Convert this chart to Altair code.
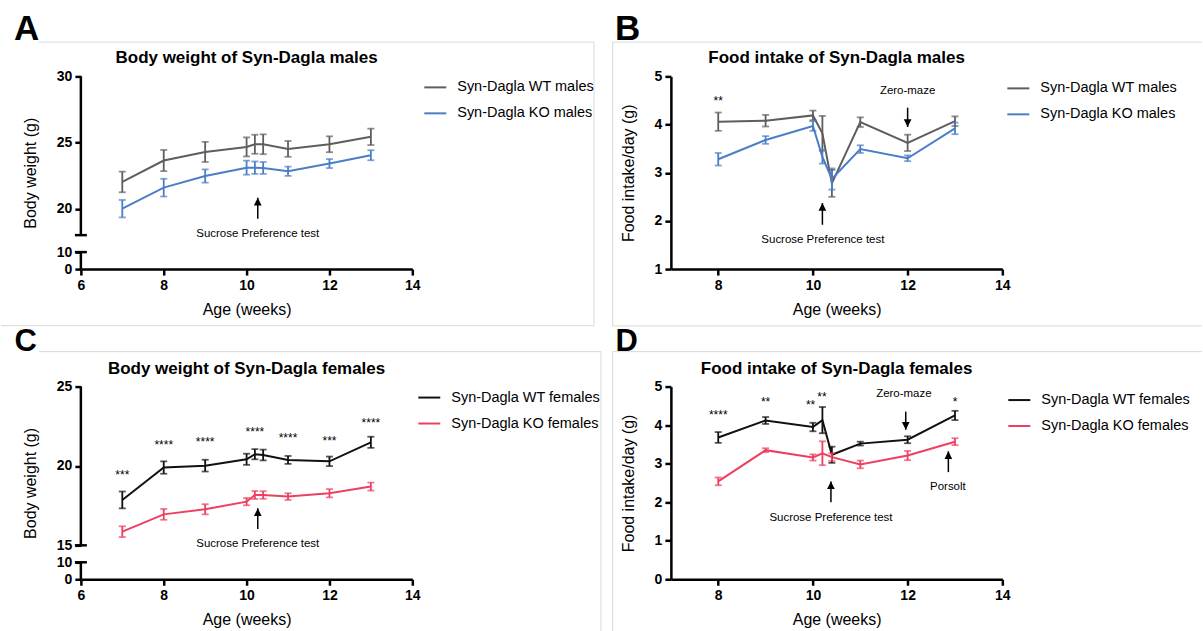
import altair as alt
import pandas as pd

FONT = "Liberation Sans"
W, H = 332, 193

# ---------------- data ----------------
weeks_bw = [7, 8, 9, 10, 10.2, 10.4, 11, 12, 13]
weeks_fi = [8, 9, 10, 10.2, 10.4, 11, 12, 13]

male_labels = ["Syn-Dagla WT males", "Syn-Dagla KO males"]
female_labels = ["Syn-Dagla WT females", "Syn-Dagla KO females"]

# A: body weight, males
a_wt = [22.02, 23.64, 24.29, 24.67, 24.87, 24.87, 24.52, 24.87, 25.43]
a_wt_sem = [0.78, 0.80, 0.76, 0.72, 0.72, 0.75, 0.60, 0.60, 0.62]
a_ko = [20.00, 21.59, 22.47, 23.10, 23.10, 23.08, 22.83, 23.41, 24.04]
a_ko_sem = [0.66, 0.67, 0.50, 0.53, 0.47, 0.45, 0.35, 0.34, 0.38]

# B: food intake, males
b_wt = [4.06, 4.08, 4.19, 3.82, 2.78, 4.05, 3.62, 4.07]
b_wt_sem = [0.19, 0.12, 0.10, 0.36, 0.28, 0.10, 0.17, 0.10]
b_ko = [3.28, 3.68, 3.97, 3.33, 2.87, 3.49, 3.30, 3.92]
b_ko_sem = [0.13, 0.08, 0.10, 0.14, 0.22, 0.08, 0.06, 0.12]

# C: body weight, females
c_wt = [17.86, 19.90, 20.02, 20.42, 20.74, 20.69, 20.38, 20.29, 21.49]
c_wt_sem = [0.53, 0.39, 0.37, 0.35, 0.32, 0.34, 0.25, 0.30, 0.35]
c_ko = [15.86, 16.95, 17.27, 17.75, 18.17, 18.17, 18.07, 18.28, 18.70]
c_ko_sem = [0.34, 0.34, 0.32, 0.23, 0.25, 0.24, 0.21, 0.26, 0.25]

# D: food intake, females
d_wt = [3.68, 4.12, 3.95, 4.13, 3.23, 3.52, 3.62, 4.25]
d_wt_sem = [0.14, 0.09, 0.11, 0.34, 0.21, 0.05, 0.09, 0.12]
d_ko = [2.54, 3.35, 3.16, 3.27, 3.17, 2.98, 3.21, 3.57]
d_ko_sem = [0.10, 0.05, 0.08, 0.31, 0.10, 0.10, 0.12, 0.09]

# annotations (data coordinates)
a_note_text = ["Sucrose Preference test"]
a_note_x = [10.27]
a_note_y = [18.1]
a_arrow_x = [10.27]
a_arrow_tail = [19.24]
a_arrow_head = [20.83]
a_arrow_dir = ["up"]

b_star_text = ["**"]
b_star_x = [8]
b_star_y = [4.55]
b_note_text = ["Zero-maze", "Sucrose Preference test"]
b_note_x = [12.0, 10.21]
b_note_y = [4.70, 1.61]
b_arrow_x = [12.0, 10.2]
b_arrow_tail = [4.35, 1.92]
b_arrow_head = [3.95, 2.37]
b_arrow_dir = ["down", "up"]

c_star_text = ["***", "****", "****", "****", "****", "***", "****"]
c_star_x = [7, 8, 9, 10.2, 11, 12, 13]
c_star_y = [19.64, 21.49, 21.70, 22.33, 21.95, 21.74, 22.90]
c_note_text = ["Sucrose Preference test"]
c_note_x = [10.27]
c_note_y = [15.08]
c_arrow_x = [10.27]
c_arrow_tail = [16.03]
c_arrow_head = [17.33]
c_arrow_dir = ["up"]

d_star_text = ["****", "**", "**", "**", "*"]
d_star_x = [8, 9, 9.95, 10.19, 13]
d_star_y = [4.33, 4.67, 4.61, 4.81, 4.68]
d_note_text = ["Zero-maze", "Sucrose Preference test", "Porsolt"]
d_note_x = [11.92, 10.38, 12.85]
d_note_y = [4.81, 1.60, 2.39]
d_arrow_x = [11.96, 10.38, 12.86]
d_arrow_tail = [4.35, 2.00, 2.78]
d_arrow_head = [3.88, 2.54, 3.32]
d_arrow_dir = ["down", "up", "up"]

# broken-axis pieces
a_seg_lo = [18, 0]
a_seg_hi = [30, 10]
c_seg_lo = [15, 0]
c_seg_hi = [25, 10]

UP = "M0,0L1,2L-1,2Z"
DOWN = "M0,0L1,-2L-1,-2Z"
DUMMY = pd.DataFrame({"d": [0]})


def series_df(weeks, wt, wt_sem, ko, ko_sem, labels):
    rows = []
    for lab, m_arr, s_arr in ((labels[0], wt, wt_sem), (labels[1], ko, ko_sem)):
        for w, m, s in zip(weeks, m_arr, s_arr):
            rows.append({"week": w, "mean": m, "lo": m - s, "hi": m + s, "group": lab})
    return pd.DataFrame(rows)


def panel(p):
    df = series_df(*p["series"], p["labels"])
    xs = alt.Scale(domain=p["xdom"], nice=False, zero=False)
    ys = alt.Scale(**p["yscale"])
    xaxis = alt.Axis(values=p["xticks"], title="Age (weeks)", grid=False, zindex=1,
                     domainColor="black", domainWidth=2.5, tickColor="black",
                     tickWidth=2.5, tickSize=6, labelFont=FONT, labelFontSize=14,
                     labelFontWeight="bold", labelColor="black", labelPadding=3,
                     labelFlush=False, labelOverlap=False, titleFont=FONT,
                     titleFontSize=16, titleFontWeight="normal", titleColor="black",
                     titlePadding=9)
    yaxis = alt.Axis(values=p["yticks"], title=p["ytitle"], grid=False, zindex=1,
                     domain=p["ydomainline"], domainColor="black", domainWidth=2.5,
                     tickColor="black", tickWidth=2.5, tickSize=6, labelFont=FONT,
                     labelFontSize=14, labelFontWeight="bold", labelColor="black",
                     labelPadding=3, labelFlush=False, labelOverlap=False,
                     titleFont=FONT, titleFontSize=16, titleFontWeight="normal",
                     titleColor="black", titlePadding=18)

    def X(f):
        return alt.X(f, type="quantitative", scale=xs, axis=xaxis)

    def Y(f):
        return alt.Y(f, type="quantitative", scale=ys, axis=yaxis)

    cscale = alt.Scale(domain=p["labels"], range=p["colors"])
    leg = alt.Legend(orient="none", legendX=p["legx"], legendY=p["legy"], title=None,
                     labelFont=FONT, labelFontSize=14.5, labelColor="black",
                     symbolType="stroke", symbolSize=484, symbolStrokeWidth=2,
                     labelOffset=10, labelLimit=300, rowPadding=7)
    col_leg = alt.Color("group:N", scale=cscale, legend=leg)
    col = alt.Color("group:N", scale=cscale, legend=None)

    base = alt.Chart(df)
    layers = []
    if p.get("bg"):
        layers.append(alt.Chart(DUMMY).mark_rect(color="white", opacity=0).encode(
            x=alt.value(-80), x2=alt.value(1123), y=alt.value(-76), y2=alt.value(555)))
    for fr in p["frames"]:
        if fr[0] == "h":
            layers.append(alt.Chart(DUMMY).mark_rule(color="#d9d9d9", strokeWidth=1).encode(
                x=alt.value(fr[1]), x2=alt.value(fr[2]), y=alt.value(fr[3])))
        else:
            layers.append(alt.Chart(DUMMY).mark_rule(color="#d9d9d9", strokeWidth=1).encode(
                x=alt.value(fr[1]), y=alt.value(fr[2]), y2=alt.value(fr[3])))
    layers.append(alt.Chart(DUMMY).mark_text(
        text=p["letter"], font=FONT, fontSize=p["letter_size"], fontWeight="bold",
        align="left", baseline="alphabetic", color="black").encode(
        x=alt.value(p["letter_x"]), y=alt.value(-36)))
    layers.append(alt.Chart(DUMMY).mark_text(
        text=p["title"], font=FONT, fontSize=17, fontWeight="bold",
        align="center", baseline="middle", color="black").encode(
        x=alt.value(W / 2), y=alt.value(p["title_y"])))

    layers.append(base.mark_line(strokeWidth=2).encode(x=X("week"), y=Y("mean"), color=col_leg))
    layers.append(base.mark_rule(strokeWidth=1.8).encode(x=X("week"), y=Y("lo"), y2="hi", color=col))
    layers.append(base.mark_tick(orient="horizontal", size=7, thickness=1.8).encode(
        x=X("week"), y=Y("lo"), color=col))
    layers.append(base.mark_tick(orient="horizontal", size=7, thickness=1.8).encode(
        x=X("week"), y=Y("hi"), color=col))

    if p.get("segments"):
        seg = pd.DataFrame({"s0": p["segments"][0], "s1": p["segments"][1]})
        layers.append(alt.Chart(seg).mark_rule(color="black", strokeWidth=2.5).encode(
            x=alt.value(0), y=Y("s0"), y2="s1"))
        brk = pd.DataFrame({"b": [p["segments"][0][0], p["segments"][1][1]]})
        layers.append(alt.Chart(brk).mark_rule(color="black", strokeWidth=2.5).encode(
            x=alt.value(-6), x2=alt.value(6), y=Y("b")))

    arr = pd.DataFrame({"x": p["arrows"][0], "t": p["arrows"][1],
                        "h": p["arrows"][2], "dir": p["arrows"][3]})
    layers.append(alt.Chart(arr).mark_rule(color="black", strokeWidth=1.5).encode(
        x=X("x"), y=Y("t"), y2="h"))
    for d, path in (("up", UP), ("down", DOWN)):
        sub = arr[arr["dir"] == d]
        if len(sub):
            layers.append(alt.Chart(sub).mark_point(
                shape=path, filled=True, size=60, color="black", opacity=1).encode(
                x=X("x"), y=Y("h")))

    notes = pd.DataFrame({"x": p["notes"][0], "y": p["notes"][1], "label": p["notes"][2]})
    layers.append(alt.Chart(notes).mark_text(
        font=FONT, fontSize=11.5, color="black", align="center", baseline="middle").encode(
        x=X("x"), y=Y("y"), text="label:N"))

    if p.get("stars"):
        st = pd.DataFrame({"x": p["stars"][0], "y": p["stars"][1], "label": p["stars"][2]})
        layers.append(alt.Chart(st).mark_text(
            font=FONT, fontSize=12, color="black", align="center",
            baseline="alphabetic", dy=7).encode(x=X("x"), y=Y("y"), text="label:N"))

    return alt.layer(*layers).properties(width=W, height=H)


pA = panel({
    "series": (weeks_bw, a_wt, a_wt_sem, a_ko, a_ko_sem), "labels": male_labels,
    "colors": ["#625c5c", "#4a7ec6"], "xdom": [6, 14], "xticks": [6, 8, 10, 12, 14],
    "yscale": {"domain": [0, 10, 18, 30], "range": [193, 176, 159, 0], "nice": False, "zero": False},
    "yticks": [0, 10, 20, 25, 30], "ytitle": "Body weight (g)", "ydomainline": False,
    "segments": (a_seg_lo, a_seg_hi), "legx": 343, "legy": -1, "bg": True,
    "frames": [("h", -42, 514, -34.3), ("v", 514, -34.3, 249.7), ("h", -80, 514, 249.7)],
    "letter": "A", "letter_size": 35, "letter_x": -67,
    "title": "Body weight of Syn-Dagla males", "title_y": -18,
    "arrows": (a_arrow_x, a_arrow_tail, a_arrow_head, a_arrow_dir),
    "notes": (a_note_x, a_note_y, a_note_text),
})

pB = panel({
    "series": (weeks_fi, b_wt, b_wt_sem, b_ko, b_ko_sem), "labels": male_labels,
    "colors": ["#625c5c", "#4a7ec6"], "xdom": [7, 14], "xticks": [8, 10, 12, 14],
    "yscale": {"domain": [1, 5], "nice": False, "zero": False},
    "yticks": [1, 2, 3, 4, 5], "ytitle": "Food intake/day (g)", "ydomainline": True,
    "legx": 336, "legy": 0,
    "frames": [("h", -58.3, 532, -34.3), ("v", -58.3, -34.3, 250), ("h", -58.3, 532, 250)],
    "letter": "B", "letter_size": 35, "letter_x": -56,
    "title": "Food intake of Syn-Dagla males", "title_y": -18,
    "arrows": (b_arrow_x, b_arrow_tail, b_arrow_head, b_arrow_dir),
    "notes": (b_note_x, b_note_y, b_note_text),
    "stars": (b_star_x, b_star_y, b_star_text),
})

pC = panel({
    "series": (weeks_bw, c_wt, c_wt_sem, c_ko, c_ko_sem), "labels": female_labels,
    "colors": ["#111111", "#ee3f60"], "xdom": [6, 14], "xticks": [6, 8, 10, 12, 14],
    "yscale": {"domain": [0, 10, 15, 25], "range": [193, 176, 159, 0], "nice": False, "zero": False},
    "yticks": [0, 10, 15, 20, 25], "ytitle": "Body weight (g)", "ydomainline": False,
    "segments": (c_seg_lo, c_seg_hi), "legx": 337, "legy": -1,
    "frames": [("h", -42, 521, -35), ("v", 521, -35, 245)],
    "letter": "C", "letter_size": 31, "letter_x": -66.5,
    "title": "Body weight of Syn-Dagla females", "title_y": -17.5,
    "arrows": (c_arrow_x, c_arrow_tail, c_arrow_head, c_arrow_dir),
    "notes": (c_note_x, c_note_y, c_note_text),
    "stars": (c_star_x, c_star_y, c_star_text),
})

pD = panel({
    "series": (weeks_fi, d_wt, d_wt_sem, d_ko, d_ko_sem), "labels": female_labels,
    "colors": ["#111111", "#ee3f60"], "xdom": [7, 14], "xticks": [8, 10, 12, 14],
    "yscale": {"domain": [0, 5], "nice": False, "zero": False},
    "yticks": [0, 1, 2, 3, 4, 5], "ytitle": "Food intake/day (g)", "ydomainline": True,
    "legx": 337, "legy": 1.5,
    "frames": [("h", -58.3, 532, -35), ("v", -58.3, -35, 245)],
    "letter": "D", "letter_size": 31, "letter_x": -55.6,
    "title": "Food intake of Syn-Dagla females", "title_y": -17.5,
    "arrows": (d_arrow_x, d_arrow_tail, d_arrow_head, d_arrow_dir),
    "notes": (d_note_x, d_note_y, d_note_text),
    "stars": (d_star_x, d_star_y, d_star_text),
})

chart = alt.concat(
    pA, pB, pC, pD, columns=2,
    spacing=alt.RowColnumber(row=117.7, column=259), bounds="flush",
).resolve_scale(color="independent").properties(padding=0).configure_view(stroke=None)

chart.save("out.html", embed_options={"renderer": "svg", "actions": False})
